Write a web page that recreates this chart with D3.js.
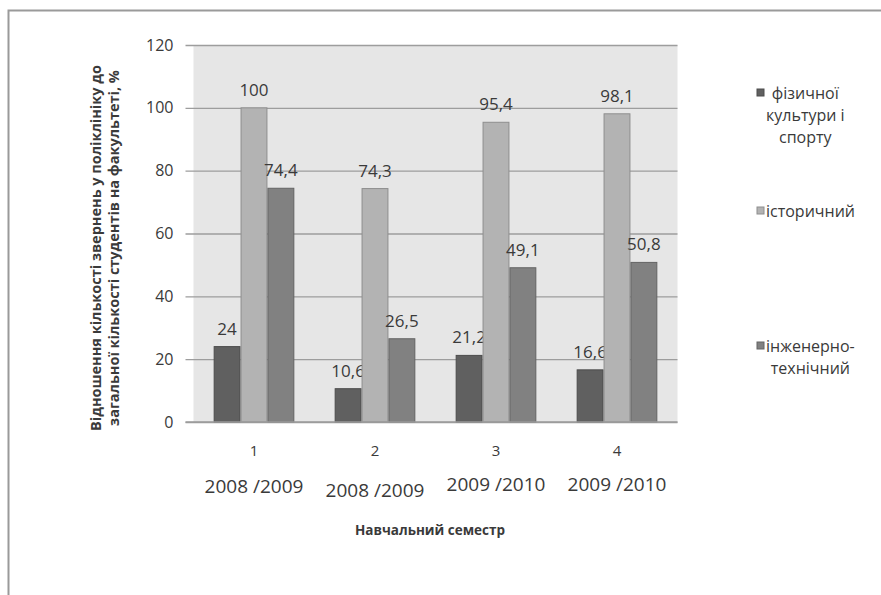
<!DOCTYPE html>
<html>
<head>
<meta charset="utf-8">
<script src="https://cdn.jsdelivr.net/npm/d3@7"></script>
<style>
  html, body { margin: 0; padding: 0; background: #fff; }
  svg { display: block; }
  text { font-family: "Open Sans", "DejaVu Sans", sans-serif; fill: #3a3a3a; }
</style>
</head>
<body>
<svg id="chart" width="881" height="595"></svg>
<script>
// Semester categories (number + academic year)
const semesters = ["1", "2", "3", "4"];
const years = ["2008 /2009", "2008 /2009", "2009 /2010", "2009 /2010"];

// Legend names of the three faculties (already wrapped into lines)
const seriesNames = [["фізичної", "культури і", "спорту"], ["історичний"], ["інженерно-", "технічний"]];

// Clinic visits relative to the number of students of the faculty, %
const sport = [24, 10.6, 21.2, 16.6];
const history = [100, 74.3, 95.4, 98.1];
const engineering = [74.4, 26.5, 49.1, 50.8];
const yTicks = [0, 20, 40, 60, 80, 100, 120];

const seriesValues = [sport, history, engineering];
const fills = ["#606060", "#b3b3b3", "#818181"];
const strokes = ["#4c4c4c", "#8e8e8e", "#646464"];

const svg = d3.select("#chart");
const m = { left: 193.5, right: 677.5, top: 45, bottom: 422 };

// frame around the chart
svg.append("rect")
  .attr("x", 8.5).attr("y", 10.5).attr("width", 900).attr("height", 700)
  .attr("fill", "#fff").attr("stroke", "#9a9a9a").attr("stroke-width", 2);

const x = d3.scaleBand().domain(semesters).range([m.left, m.right]).paddingInner(1.5 / 4.5).paddingOuter(0.75 / 4.5);
const xs = d3.scaleBand().domain(d3.range(3)).range([0, x.bandwidth()]);
const y = d3.scaleLinear().domain([0, 120]).range([m.bottom, m.top]);

// plot background
svg.append("rect")
  .attr("x", m.left).attr("y", m.top)
  .attr("width", m.right - m.left).attr("height", m.bottom - m.top)
  .attr("fill", "#e6e6e6");

// gridlines with outward ticks
const yAxis = d3.axisLeft(y).tickValues(yTicks).tickSize(-(m.right - m.left)).tickPadding(14);
const gy = svg.append("g").attr("transform", `translate(${m.left},0)`).call(yAxis);
gy.select(".domain").remove();
gy.selectAll(".tick line").attr("stroke", "#9d9d9d").attr("stroke-width", 1.3).attr("x1", -8);
gy.selectAll(".tick text").style("font-size", "16px").attr("fill", "#3a3a3a").attr("x", -20);

// bars
const groups = svg.append("g").selectAll("g")
  .data(semesters).join("g")
  .attr("transform", d => `translate(${x(d)},0)`);

seriesValues.forEach((vals, si) => {
  groups.append("rect")
    .attr("x", xs(si) + 0.5)
    .attr("y", (d, i) => y(vals[i]))
    .attr("width", xs.bandwidth() - 1)
    .attr("height", (d, i) => y(0) - y(vals[i]))
    .attr("fill", fills[si]).attr("stroke", strokes[si]).attr("stroke-width", 1);
  groups.append("text")
    .attr("x", xs(si) + xs.bandwidth() / 2)
    .attr("y", (d, i) => y(vals[i]) - 12)
    .attr("text-anchor", "middle")
    .style("font-size", "17px")
    .text((d, i) => String(vals[i]).replace(".", ","));
});

// baseline
svg.append("line").attr("x1", m.left - 8).attr("x2", m.right)
  .attr("y1", y(0)).attr("y2", y(0)).attr("stroke", "#9d9d9d").attr("stroke-width", 1.3);

// category labels: semester number and academic year
const cat = svg.append("g");
cat.selectAll("text.num").data(semesters).join("text")
  .attr("class", "num")
  .attr("x", d => x(d) + x.bandwidth() / 2).attr("y", 456)
  .attr("text-anchor", "middle").style("font-size", "15px").text(d => d);
cat.selectAll("text.yr").data(years).join("text")
  .attr("class", "yr")
  .attr("x", (d, i) => x(semesters[i]) + x.bandwidth() / 2)
  .attr("y", (d, i) => 493 + (i === 1 ? 4 : i >= 2 ? -2 : 0))
  .attr("text-anchor", "middle").style("font-size", "19px").text(d => d);

// axis titles
svg.append("text")
  .attr("x", 430).attr("y", 535)
  .attr("text-anchor", "middle").style("font-size", "13.5px").style("font-weight", "bold")
  .attr("fill", "#222").text("Навчальний семестр");

const yt = svg.append("text")
  .attr("transform", `translate(0,248) rotate(-90)`)
  .attr("text-anchor", "middle").style("font-size", "14.5px").style("font-weight", "bold").attr("fill", "#222");
yt.append("tspan").attr("x", 0).attr("y", 101).text("Відношення кількості звернень у поліклініку до");
yt.append("tspan").attr("x", 0).attr("y", 119).text("загальної кількості студентів на факультеті, %");

// legend
const legendRows = [93, 211, 346];
seriesNames.forEach((lines, si) => {
  const g = svg.append("g");
  g.append("rect").attr("x", 757).attr("y", legendRows[si] - 4).attr("width", 7).attr("height", 7)
    .attr("fill", fills[si]).attr("stroke", strokes[si]);
  const t = g.selectAll("text").data(lines).join("text")
    .attr("y", (d, i) => legendRows[si] + 5.5 + i * 22)
    .style("font-size", "16px").text(d => d);
  const widths = t.nodes().map(n => n.getComputedTextLength());
  const maxW = d3.max(widths);
  t.attr("x", 766 + maxW / 2).attr("text-anchor", "middle");
});
</script>
</body>
</html>
